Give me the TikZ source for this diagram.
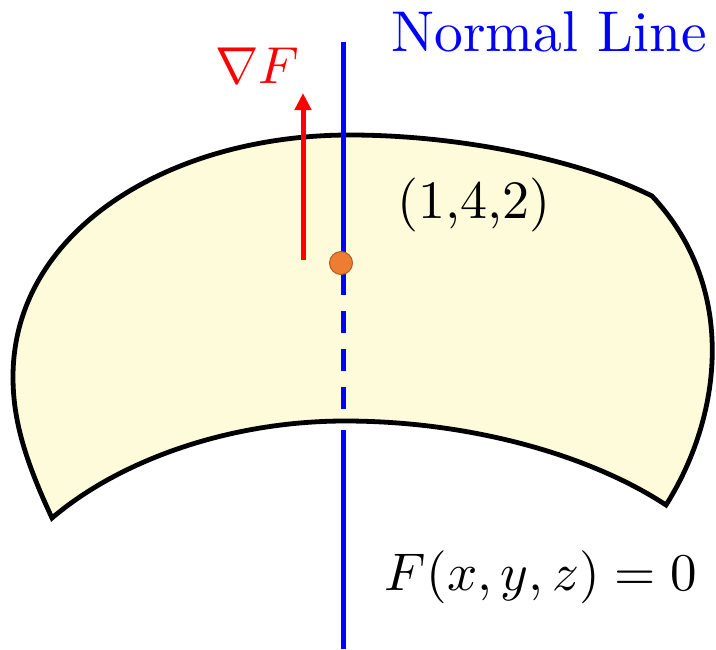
\documentclass[tikz,border=0pt]{standalone}
\usetikzlibrary{arrows.meta}
\definecolor{surf}{HTML}{FEFBDB}
\definecolor{dotfill}{HTML}{ED7D31}
\definecolor{dotdraw}{HTML}{B35C22}
\tikzset{
  surface/.style={draw=black, line width=4.8pt, fill=surf, line join=miter},
  normalline/.style={draw=blue, line width=5pt},
  gradarrow/.style={draw=red, line width=5pt, -{Triangle[width=16pt,length=17pt]}},
  ptdot/.style={circle, fill=dotfill, draw=dotdraw, line width=1pt, minimum size=23pt, inner sep=0pt},
  lbl/.style={anchor=base, inner sep=0pt},
}
\begin{document}
\begin{tikzpicture}[x=1pt,y=-1pt]
\useasboundingbox (0,0) rectangle (716,649);
% surface
\draw[surface] (52,518) .. controls (25,460) and (13,420) .. (13,377)
  .. controls (13,230) and (170,135) .. (350,135)
  .. controls (460,135) and (580,160) .. (652,196)
  .. controls (740,290) and (720,420) .. (666,505)
  .. controls (590,455) and (470,421) .. (345,421)
  .. controls (230,421) and (120,460) .. (52,518) -- cycle;
% normal line
\coordinate (ntop) at (343,42);
\coordinate (s1) at (343,295);
\coordinate (d1) at (343,311);
\coordinate (d2) at (343,410);
\coordinate (s2) at (343,430);
\coordinate (nbot) at (343,649);
\draw[normalline] (ntop) -- (s1);
\draw[normalline, dash pattern=on 22pt off 16pt] (d1) -- (d2);
\draw[normalline] (s2) -- (nbot);
% gradient arrow
\coordinate (gb) at (303,260);
\coordinate (gt) at (303,93);
\draw[gradarrow] (gb) -- (gt);
% point
\node[ptdot] (P) at (341,263) {};
% labels
\node[lbl, text=blue, scale=5.75] (nl) at (549,51) {Normal Line};
\node[lbl, text=red, scale=5.2] (gl) at (257,83) {$\nabla F$};
\node[lbl, scale=5.4] (pl) at (474,218) {(1,4,2)};
\node[lbl, scale=5.3] (el) at (541,590) {$F(x,y,z)=0$};
\end{tikzpicture}
\end{document}
